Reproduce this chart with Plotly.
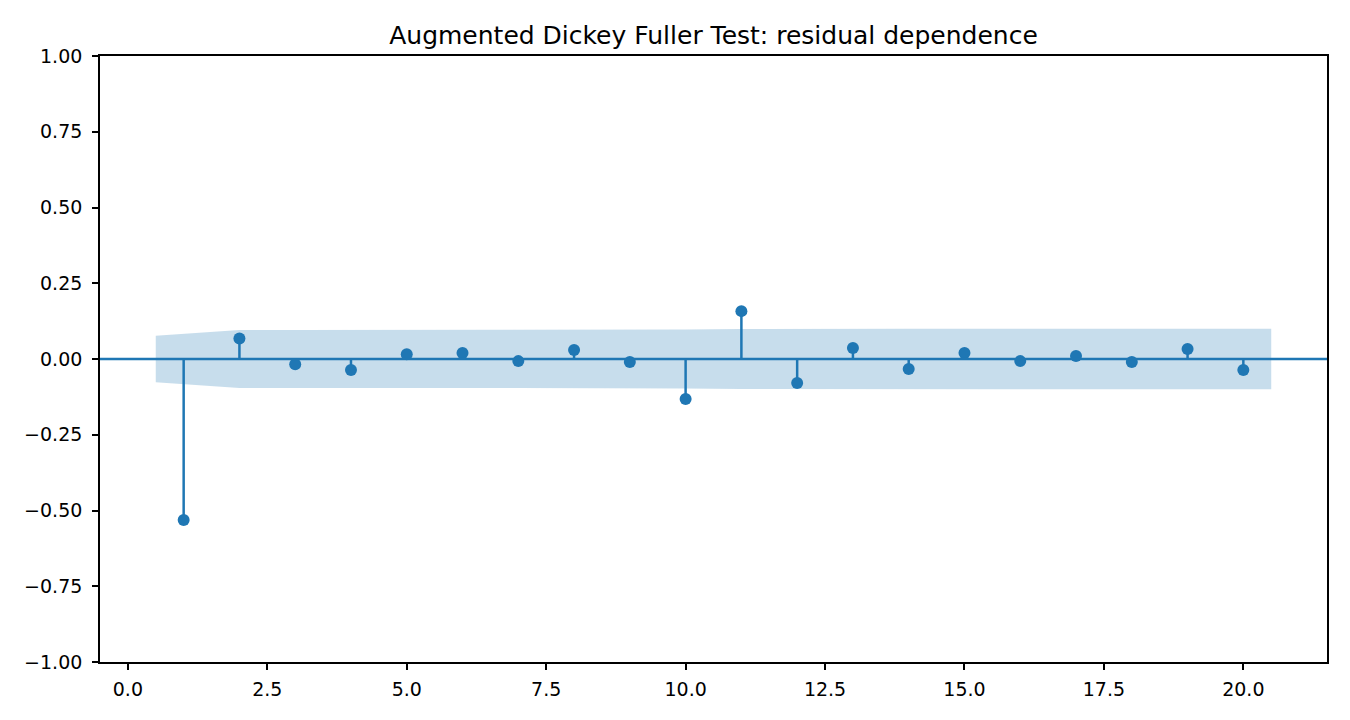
import plotly.graph_objects as go

# ACF of residuals, lags 1..20
lags = list(range(1, 21))
acf_vals = [-0.531, 0.068, -0.017, -0.036, 0.016, 0.020, -0.007, 0.030, -0.010, -0.132,
            0.158, -0.079, 0.036, -0.033, 0.020, -0.007, 0.010, -0.010, 0.033, -0.036]

# confidence band (x positions: first/last lag shifted by half a step)
band_x = [0.5] + list(range(2, 20)) + [20.5]
band_hi = [0.077, 0.096, 0.096, 0.096, 0.096, 0.096, 0.096, 0.096, 0.096, 0.097,
           0.099, 0.100, 0.100, 0.100, 0.100, 0.100, 0.100, 0.100, 0.100, 0.100]

C0 = '#1f77b4'

# stems from 0 to each value
stem_x, stem_y = [], []
for lag, v in zip(lags, acf_vals):
    stem_x += [lag, lag, None]
    stem_y += [0, v, None]

fig = go.Figure()
fig.add_trace(go.Scatter(x=band_x + band_x[::-1],
                         y=band_hi + [-v for v in band_hi[::-1]],
                         fill='toself', fillcolor='rgba(31,119,180,0.25)',
                         line=dict(width=0), mode='lines', hoverinfo='skip'))
fig.add_trace(go.Scatter(x=stem_x, y=stem_y, mode='lines',
                         line=dict(color=C0, width=2.5), hoverinfo='skip'))
fig.add_trace(go.Scatter(x=lags, y=acf_vals, mode='markers',
                         marker=dict(color=C0, size=12)))
fig.add_shape(type='line', xref='paper', x0=0, x1=1, yref='y', y0=0, y1=0,
              line=dict(color=C0, width=2.5))

axis_style = dict(showline=True, mirror=True, linecolor='black', linewidth=1.7,
                  ticks='outside', ticklen=6, tickwidth=1.7, tickcolor='black',
                  showgrid=False, zeroline=False,
                  tickfont=dict(family='DejaVu Sans', size=19, color='black'))

fig.update_layout(
    title=dict(text='Augmented Dickey Fuller Test: residual dependence',
               x=0.5, xanchor='center', xref='paper',
               y=1 - 27 / 712, yanchor='middle', yref='container',
               font=dict(family='DejaVu Sans', size=25, color='black')),
    xaxis=dict(range=[-0.5, 21.5], tickvals=[0, 2.5, 5, 7.5, 10, 12.5, 15, 17.5, 20],
               ticktext=['0.0', '2.5', '5.0', '7.5', '10.0', '12.5', '15.0', '17.5', '20.0'],
               ticklabelstandoff=3, **axis_style),
    yaxis=dict(range=[-1, 1], tickvals=[-1, -0.75, -0.5, -0.25, 0, 0.25, 0.5, 0.75, 1],
               tickformat='.2f', ticklabelstandoff=6, **axis_style),
    width=1342, height=712,
    margin=dict(l=92, r=23, t=48, b=58),
    plot_bgcolor='white', paper_bgcolor='white',
    showlegend=False,
)
fig.write_html("out.html")
